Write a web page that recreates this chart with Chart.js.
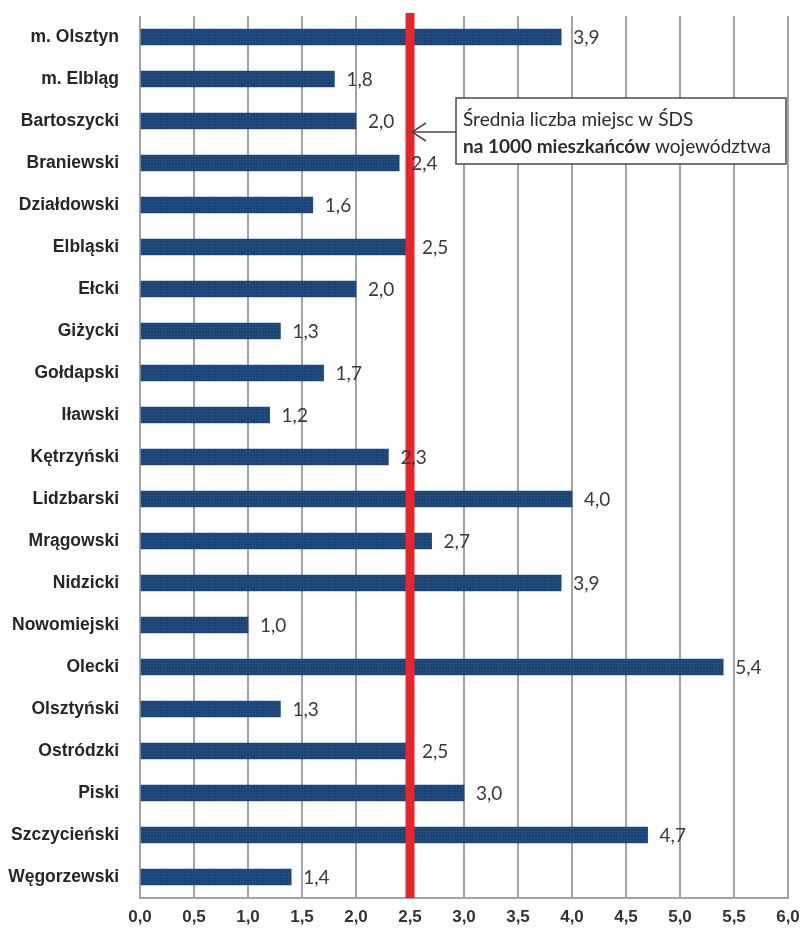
<!DOCTYPE html>
<html>
<head>
<meta charset="utf-8">
<script src="https://cdn.jsdelivr.net/npm/chart.js@4.4.0/dist/chart.umd.min.js"></script>
<style>
  body { margin: 0; background: #fff; }
  canvas { display: block; }
</style>
</head>
<body>
<canvas id="miejsca" width="803" height="932"></canvas>
<script>
// Powiaty i liczba miejsc w SDS na 1000 mieszkancow
const powiaty = [
    "m. Olsztyn", "m. Elbląg", "Bartoszycki", "Braniewski", "Działdowski",
    "Elbląski", "Ełcki", "Giżycki", "Gołdapski", "Iławski", "Kętrzyński",
    "Lidzbarski", "Mrągowski", "Nidzicki", "Nowomiejski", "Olecki",
    "Olsztyński", "Ostródzki", "Piski", "Szczycieński", "Węgorzewski"
];
const miejsca = [3.9, 1.8, 2.0, 2.4, 1.6, 2.5, 2.0, 1.3, 1.7, 1.2, 2.3,
                 4.0, 2.7, 3.9, 1.0, 5.4, 1.3, 2.5, 3.0, 4.7, 1.4];
const srednia = 2.5;
const xTicks = [0, 0.5, 1, 1.5, 2, 2.5, 3, 3.5, 4, 4.5, 5, 5.5, 6];
const opisLinia1 = "Średnia liczba miejsc w ŚDS";
const opisLinia2Bold = "na 1000 mieszkańców";
const opisLinia2 = " województwa";

const context = document.getElementById("miejsca").getContext("2d");

const fmt = v => Number(v).toFixed(1).replace(".", ",");

// lekko kratkowana faktura slupkow
function barPattern() {
    const c = document.createElement("canvas");
    c.width = 3; c.height = 3;
    const g = c.getContext("2d");
    g.fillStyle = "#194271";
    g.fillRect(0, 0, 3, 3);
    g.fillStyle = "#224d7f";
    g.fillRect(0, 0, 3, 1);
    g.fillRect(0, 0, 1, 3);
    return context.createPattern(c, "repeat");
}

// czerwona linia sredniej
const averageLine = {
    id: "averageLine",
    afterDatasetsDraw(chart) {
        const ctx = chart.ctx;
        const x = chart.scales.x.getPixelForValue(srednia);
        ctx.save();
        ctx.fillStyle = "#e8252b";
        ctx.fillRect(x - 4.5, chart.chartArea.top - 3, 9, chart.chartArea.bottom - chart.chartArea.top + 3);
        ctx.restore();
    }
};

// wartosci przy slupkach
const valueLabels = {
    id: "valueLabels",
    afterDatasetsDraw(chart) {
        const ctx = chart.ctx;
        const meta = chart.getDatasetMeta(0);
        ctx.save();
        ctx.font = "19px Lato";
        ctx.fillStyle = "#3a3a3a";
        ctx.textBaseline = "middle";
        meta.data.forEach((bar, i) => {
            ctx.fillText(fmt(miejsca[i]), bar.x + 12, bar.y + 1);
        });
        ctx.restore();
    }
};

// ramka z opisem i strzalka do linii sredniej
const note = {
    id: "note",
    afterDraw(chart) {
        const ctx = chart.ctx;
        const xLine = chart.scales.x.getPixelForValue(srednia);
        const yRow = chart.scales.y.getPixelForValue(2);
        const left = xLine + 46, top = yRow - 23, w = 330, h = 66;
        const arrowY = yRow + 11;
        ctx.save();
        ctx.fillStyle = "#fff";
        ctx.fillRect(left, top, w, h);
        ctx.strokeStyle = "#4a4a4a";
        ctx.lineWidth = 1.5;
        ctx.strokeRect(left, top, w, h);

        ctx.beginPath();
        ctx.moveTo(left, arrowY);
        ctx.lineTo(xLine + 2, arrowY);
        ctx.moveTo(xLine + 16, arrowY - 9);
        ctx.lineTo(xLine + 2, arrowY);
        ctx.lineTo(xLine + 16, arrowY + 9);
        ctx.stroke();

        ctx.fillStyle = "#2b2b2b";
        ctx.textBaseline = "middle";
        ctx.font = "19px Lato";
        ctx.fillText(opisLinia1, left + 7, top + 22);
        ctx.font = "bold 19px Lato";
        ctx.fillText(opisLinia2Bold, left + 7, top + 49);
        const bw = ctx.measureText(opisLinia2Bold).width;
        ctx.font = "19px Lato";
        ctx.fillText(opisLinia2, left + 7 + bw, top + 49);
        ctx.restore();
    }
};

new Chart(context, {
    type: "bar",
    data: {
        labels: powiaty,
        datasets: [{
            data: miejsca,
            backgroundColor: barPattern(),
            borderWidth: 0,
            barThickness: 16
        }]
    },
    options: {
        indexAxis: "y",
        responsive: false,
        animation: false,
        layout: { padding: { top: 16, right: 15, left: 0, bottom: 0 } },
        plugins: {
            legend: { display: false },
            tooltip: { enabled: false }
        },
        scales: {
            x: {
                min: 0,
                max: 6,
                afterBuildTicks: scale => { scale.ticks = xTicks.map(v => ({ value: v })); },
                afterFit: scale => {
                    scale.height = 34;
                    scale.paddingLeft = 0;
                    scale.paddingRight = 0;
                },
                grid: { color: "#a3a3a3", lineWidth: 2, drawTicks: false },
                border: { color: "#a3a3a3", width: 2 },
                ticks: {
                    padding: 9,
                    color: "#333",
                    font: { family: "Liberation Sans", size: 17, weight: "bold" },
                    callback: v => fmt(v),
                    maxRotation: 0
                }
            },
            y: {
                afterFit: scale => {
                    scale.width = 140;
                    scale.paddingTop = 0;
                    scale.paddingBottom = 0;
                },
                grid: { display: false },
                border: { display: false },
                ticks: {
                    padding: 13,
                    color: "#262626",
                    font: { family: "Liberation Sans", size: 17.5, weight: "bold" }
                }
            }
        }
    },
    plugins: [averageLine, valueLabels, note]
});
</script>
</body>
</html>
